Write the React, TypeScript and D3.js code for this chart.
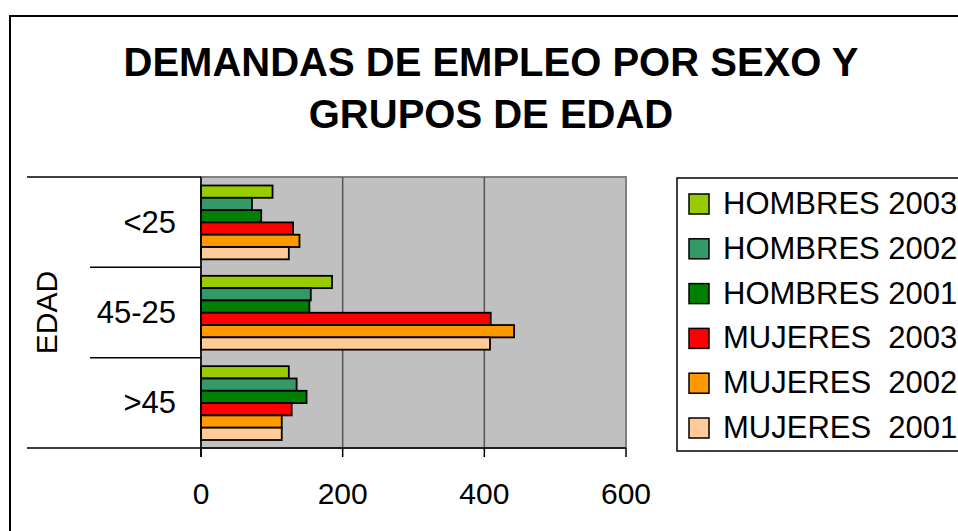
import React from "react";
import * as d3 from "d3";

const ageGroups = ["<25", "45-25", ">45"];
const seriesNames = [
  "HOMBRES 2003",
  "HOMBRES 2002",
  "HOMBRES 2001",
  "MUJERES  2003",
  "MUJERES  2002",
  "MUJERES  2001",
];
const seriesColors = ["#99CC00", "#339966", "#008000", "#FF0000", "#FF9900", "#FFCC99"];
// values per series, in the order of ageGroups
const hombres2003 = [101, 185, 124];
const hombres2002 = [72, 155, 135];
const hombres2001 = [85, 153, 149];
const mujeres2003 = [130, 409, 128];
const mujeres2002 = [139, 442, 114];
const mujeres2001 = [124, 408, 114];
const seriesValues = [hombres2003, hombres2002, hombres2001, mujeres2003, mujeres2002, mujeres2001];
const xTicks = [0, 200, 400, 600];

const font = "'Liberation Sans', Arial, sans-serif";

export default function App() {
  const plot = { left: 201, right: 626, top: 177, bottom: 448 };
  const x = d3.scaleLinear().domain([0, 600]).range([plot.left, plot.right]);
  const y0 = d3.scaleBand<string>().domain(ageGroups).range([plot.top, plot.bottom]);
  const y1 = d3
    .scaleBand<number>()
    .domain(d3.range(seriesNames.length))
    .range([8.5, y0.bandwidth() - 8]);

  const separators = ageGroups.slice(1).map((g) => y0(g)!);

  return (
    <svg
      width={958}
      height={531}
      style={{ position: "absolute", left: 0, top: 0, background: "#fff" }}
      fontFamily={font}
    >
      {/* outer chart border */}
      <rect x={10} y={16} width={1000} height={600} fill="#fff" stroke="#000" strokeWidth={2} />

      <text x={491} y={76} textAnchor="middle" fontSize={40} fontWeight="bold">
        DEMANDAS DE EMPLEO POR SEXO Y
      </text>
      <text x={491} y={128} textAnchor="middle" fontSize={40} fontWeight="bold">
        GRUPOS DE EDAD
      </text>

      {/* plot area */}
      <rect
        x={plot.left}
        y={plot.top}
        width={plot.right - plot.left}
        height={plot.bottom - plot.top}
        fill="#C0C0C0"
        stroke="#808080"
        strokeWidth={2}
      />
      {xTicks.slice(1, -1).map((t) => (
        <line key={t} x1={x(t)} x2={x(t)} y1={plot.top} y2={plot.bottom} stroke="#555" strokeWidth={1.5} />
      ))}

      {/* bars */}
      {ageGroups.map((g, gi) => (
        <g key={g} transform={`translate(0,${y0(g)})`}>
          {seriesValues.map((vals, si) => (
            <rect
              key={si}
              x={x(0)}
              y={y1(si)}
              width={x(vals[gi]) - x(0)}
              height={y1.bandwidth()}
              fill={seriesColors[si]}
              stroke="#000"
              strokeWidth={1.8}
            />
          ))}
        </g>
      ))}

      {/* category axis */}
      <line x1={plot.left} x2={plot.left} y1={plot.top} y2={plot.bottom + 9} stroke="#000" strokeWidth={1.5} />
      <line x1={27} x2={plot.left} y1={plot.top} y2={plot.top} stroke="#000" strokeWidth={1.5} />
      <line x1={27} x2={plot.right} y1={plot.bottom} y2={plot.bottom} stroke="#000" strokeWidth={1.5} />
      {separators.map((s, i) => (
        <line key={i} x1={90} x2={plot.left} y1={s} y2={s} stroke="#000" strokeWidth={1.5} />
      ))}
      {ageGroups.map((g) => (
        <text
          key={g}
          x={176}
          y={y0(g)! + y0.bandwidth() / 2}
          textAnchor="end"
          dominantBaseline="central"
          fontSize={31}
        >
          {g}
        </text>
      ))}
      <text
        transform={`translate(46,${(plot.top + plot.bottom) / 2}) rotate(-90)`}
        textAnchor="middle"
        dominantBaseline="central"
        fontSize={30}
      >
        EDAD
      </text>

      {/* value axis */}
      {xTicks.map((t) => (
        <g key={t}>
          <line x1={x(t)} x2={x(t)} y1={plot.bottom} y2={plot.bottom + 9} stroke="#000" strokeWidth={1.5} />
          <text x={x(t)} y={504} textAnchor="middle" fontSize={30}>
            {t}
          </text>
        </g>
      ))}

      {/* legend */}
      <rect x={677} y={178} width={400} height={273} fill="#fff" stroke="#000" strokeWidth={1.5} />
      {seriesNames.map((name, i) => {
        const cy = 204 + i * 44.8;
        return (
          <g key={name}>
            <rect x={689} y={cy - 10} width={20} height={20} fill={seriesColors[i]} stroke="#000" strokeWidth={1.5} />
            <text x={723} y={cy + 10} fontSize={31} style={{ whiteSpace: "pre" }}>
              {name}
            </text>
          </g>
        );
      })}
    </svg>
  );
}
